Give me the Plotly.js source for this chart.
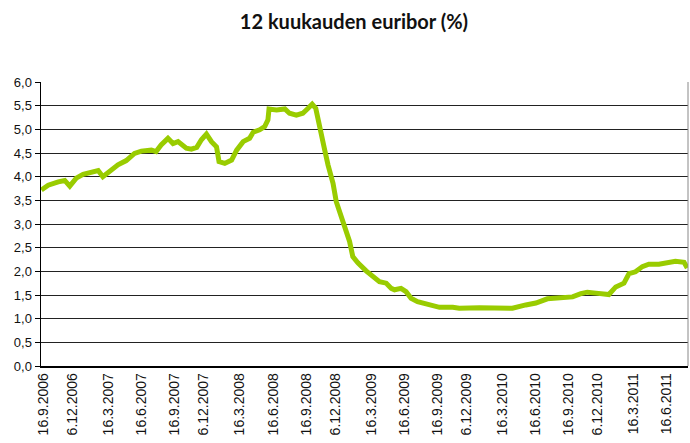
<!DOCTYPE html>
<html>
<head>
<meta charset="utf-8">
<script src="https://cdn.plot.ly/plotly-3.0.1.min.js"></script>
<style>html,body{margin:0;padding:0;background:#fff;}#chart{width:690px;height:443px;}</style>
</head>
<body>
<div id="chart"></div>
<script>
var dates = ['2006-09-11','2006-09-30','2006-10-28','2006-11-15','2006-11-29','2006-12-17',
'2007-01-05','2007-01-28','2007-02-16','2007-03-01','2007-03-20','2007-04-12','2007-05-05','2007-05-28',
'2007-06-16','2007-07-14','2007-07-27','2007-08-10','2007-08-29','2007-09-12','2007-09-26','2007-10-19',
'2007-11-02','2007-11-17','2007-11-30','2007-12-14','2007-12-28','2008-01-11','2008-01-18','2008-02-03',
'2008-02-22','2008-03-07','2008-03-25','2008-04-12','2008-04-22','2008-05-10','2008-05-24','2008-06-02',
'2008-06-05','2008-06-26','2008-07-19','2008-08-01','2008-08-20','2008-09-07','2008-09-21','2008-10-03',
'2008-10-13','2008-10-19','2008-10-28','2008-11-07','2008-11-16','2008-11-30','2008-12-09','2008-12-23',
'2009-01-06','2009-01-15','2009-01-24','2009-02-07','2009-03-02','2009-03-21','2009-04-08','2009-04-27',
'2009-05-11','2009-05-20','2009-06-07','2009-06-21','2009-07-05','2009-07-23','2009-08-16','2009-09-03',
'2009-09-22','2009-10-29','2009-11-16','2010-01-11','2010-03-07','2010-04-13','2010-05-20','2010-06-17',
'2010-07-19','2010-08-21','2010-09-27','2010-10-20','2010-11-07','2010-12-01','2011-01-06','2011-01-25',
'2011-02-17','2011-03-03','2011-03-21','2011-04-09','2011-04-27','2011-05-25','2011-06-22','2011-07-10',
'2011-08-03','2011-08-12'];
var euribor = [3.72,3.82,3.89,3.92,3.80,3.97,
4.05,4.08,4.13,4.00,4.11,4.25,4.34,4.49,
4.54,4.56,4.53,4.67,4.81,4.70,4.74,4.60,
4.58,4.62,4.78,4.90,4.74,4.63,4.32,4.28,
4.35,4.56,4.74,4.81,4.94,4.99,5.06,5.20,
5.43,5.41,5.43,5.34,5.30,5.34,5.44,5.53,
5.44,5.25,4.95,4.56,4.25,3.86,3.47,3.15,
2.88,2.63,2.31,2.18,2.01,1.89,1.78,1.75,
1.64,1.61,1.64,1.57,1.43,1.36,1.32,1.29,
1.24,1.24,1.22,1.23,1.22,1.22,1.29,1.33,
1.42,1.43,1.46,1.53,1.56,1.54,1.51,1.67,
1.75,1.95,1.99,2.10,2.15,2.15,2.18,2.21,
2.19,2.07];
var tickDates = ['2006-09-16','2006-12-06','2007-03-16','2007-06-16','2007-09-16','2007-12-06',
'2008-03-16','2008-06-16','2008-09-16','2008-12-06','2009-03-16','2009-06-16','2009-09-16','2009-12-06',
'2010-03-16','2010-06-16','2010-09-16','2010-12-06','2011-03-16','2011-06-16'];
var tickLabels = ['16.9.2006','6.12.2006','16.3.2007','16.6.2007','16.9.2007','6.12.2007',
'16.3.2008','16.6.2008','16.9.2008','6.12.2008','16.3.2009','16.6.2009','16.9.2009','6.12.2009',
'16.3.2010','16.6.2010','16.9.2010','6.12.2010','16.3.2011','16.6.2011'];

var trace = {
  x: dates, y: euribor, type: 'scatter', mode: 'lines',
  line: {color: '#99cc00', width: 5},
  hoverinfo: 'x+y'
};
var layout = {
  width: 690, height: 443,
  margin: {l: 41, r: 2, t: 82, b: 77},
  paper_bgcolor: '#ffffff', plot_bgcolor: '#ffffff',
  separators: ', ',
  showlegend: false,
  title: {text: '<b>12 kuukauden euribor (%)</b>', x: 0.513, xanchor: 'center', y: 0.95, yanchor: 'middle',
          font: {family: 'Lato, "Open Sans", sans-serif', size: 20, color: '#111111'}},
  xaxis: {
    type: 'date', range: ['2006-09-10', '2011-08-14'],
    tickmode: 'array', tickvals: tickDates, ticktext: tickLabels,
    tickangle: -90, ticks: '', showgrid: false, zeroline: false,
    showline: true, linecolor: '#000000', linewidth: 1.5,
    tickfont: {family: '"Liberation Sans", Arial, sans-serif', size: 14, color: '#111111'}
  },
  yaxis: {
    range: [0, 6], dtick: 0.5, tick0: 0, tickformat: '.1f',
    ticks: 'outside', ticklen: 5, tickcolor: '#000000',
    showgrid: true, gridcolor: '#222222', gridwidth: 1, zeroline: false,
    showline: true, linecolor: '#000000', linewidth: 1.5,
    tickfont: {family: '"Liberation Sans", Arial, sans-serif', size: 13, color: '#111111'}
  },
  shapes: [{type: 'line', xref: 'paper', yref: 'paper', x0: 1, x1: 1, y0: 0, y1: 1,
            line: {color: '#888888', width: 1}}]
};
Plotly.newPlot('chart', [trace], layout, {displayModeBar: false, staticPlot: true});
</script>
</body>
</html>
